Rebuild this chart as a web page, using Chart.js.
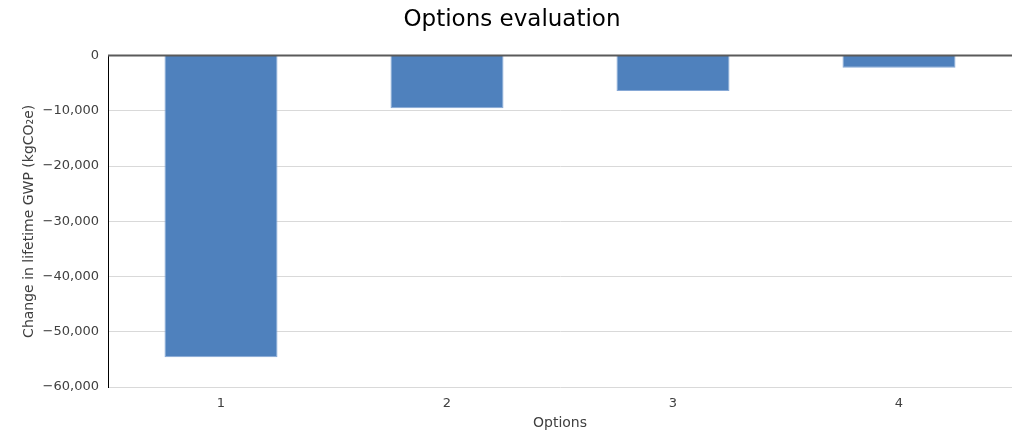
<!DOCTYPE html>
<html>
<head>
<meta charset="utf-8">
<script src="https://cdn.jsdelivr.net/npm/chart.js@4/dist/chart.umd.min.js"></script>
<style>
  html, body { margin: 0; padding: 0; background: #fff; }
  #wrap { width: 1018px; height: 432px; }
</style>
</head>
<body>
<div id="wrap"><canvas id="c" width="1018" height="432"></canvas></div>
<script>
// Options and their change in lifetime GWP (kgCO2e)
const options = ['1', '2', '3', '4'];
const gwpChange = [-54600, -9550, -6400, -2200];
const yMin = -60000;
const yMax = 0;
const yStep = 10000;

const FONT = 'DejaVu Sans, Verdana, sans-serif';

function fmt(v) {
  const s = Math.abs(v).toLocaleString('en-US');
  return v < 0 ? '\u2212' + s : s;
}

// Draw the zero baseline on top of the bars
const zeroLine = {
  id: 'zeroLine',
  afterDatasetsDraw(chart) {
    const { ctx, chartArea, scales } = chart;
    const y = scales.y.getPixelForValue(0);
    ctx.save();
    ctx.strokeStyle = '#5a5a5a';
    ctx.lineWidth = 2;
    ctx.beginPath();
    ctx.moveTo(chartArea.left, y);
    ctx.lineTo(chartArea.right, y);
    ctx.stroke();
    ctx.restore();
  }
};

new Chart(document.getElementById('c'), {
  type: 'bar',
  data: {
    labels: options,
    datasets: [{
      data: gwpChange,
      backgroundColor: '#4f81bd',
      borderColor: '#86a8d6',
      borderWidth: 1,
      categoryPercentage: 1,
      barPercentage: 0.5
    }]
  },
  options: {
    responsive: false,
    animation: false,
    layout: { padding: { left: 12, right: 6, top: 0, bottom: 0 } },
    plugins: {
      legend: { display: false },
      tooltip: { enabled: false },
      title: {
        display: true,
        text: 'Options evaluation',
        color: '#000',
        font: { family: FONT, size: 23, weight: 'normal', lineHeight: 1.2 },
        padding: { top: 6, bottom: 22 }
      }
    },
    scales: {
      x: {
        grid: { display: false, drawTicks: false },
        border: { display: false },
        ticks: {
          color: '#404040',
          font: { family: FONT, size: 13 },
          padding: 9
        },
        title: {
          display: true,
          text: 'Options',
          color: '#404040',
          font: { family: FONT, size: 14 },
          padding: { top: 2, bottom: 0 }
        },
        afterFit(scale) { scale.height = 45; }
      },
      y: {
        min: yMin,
        max: yMax,
        ticks: {
          stepSize: yStep,
          color: '#404040',
          font: { family: FONT, size: 13 },
          padding: 9,
          callback: (v) => fmt(v)
        },
        grid: {
          color: '#d9d9d9',
          lineWidth: 1,
          drawTicks: false
        },
        border: { display: true, color: '#000', width: 1 },
        title: {
          display: true,
          text: 'Change in lifetime GWP (kgCO\u2082e)',
          color: '#404040',
          font: { family: FONT, size: 14 },
          padding: { top: 9, bottom: 6 }
        },
        afterFit(scale) { scale.width = 96; }
      }
    }
  },
  plugins: [zeroLine]
});
</script>
</body>
</html>
